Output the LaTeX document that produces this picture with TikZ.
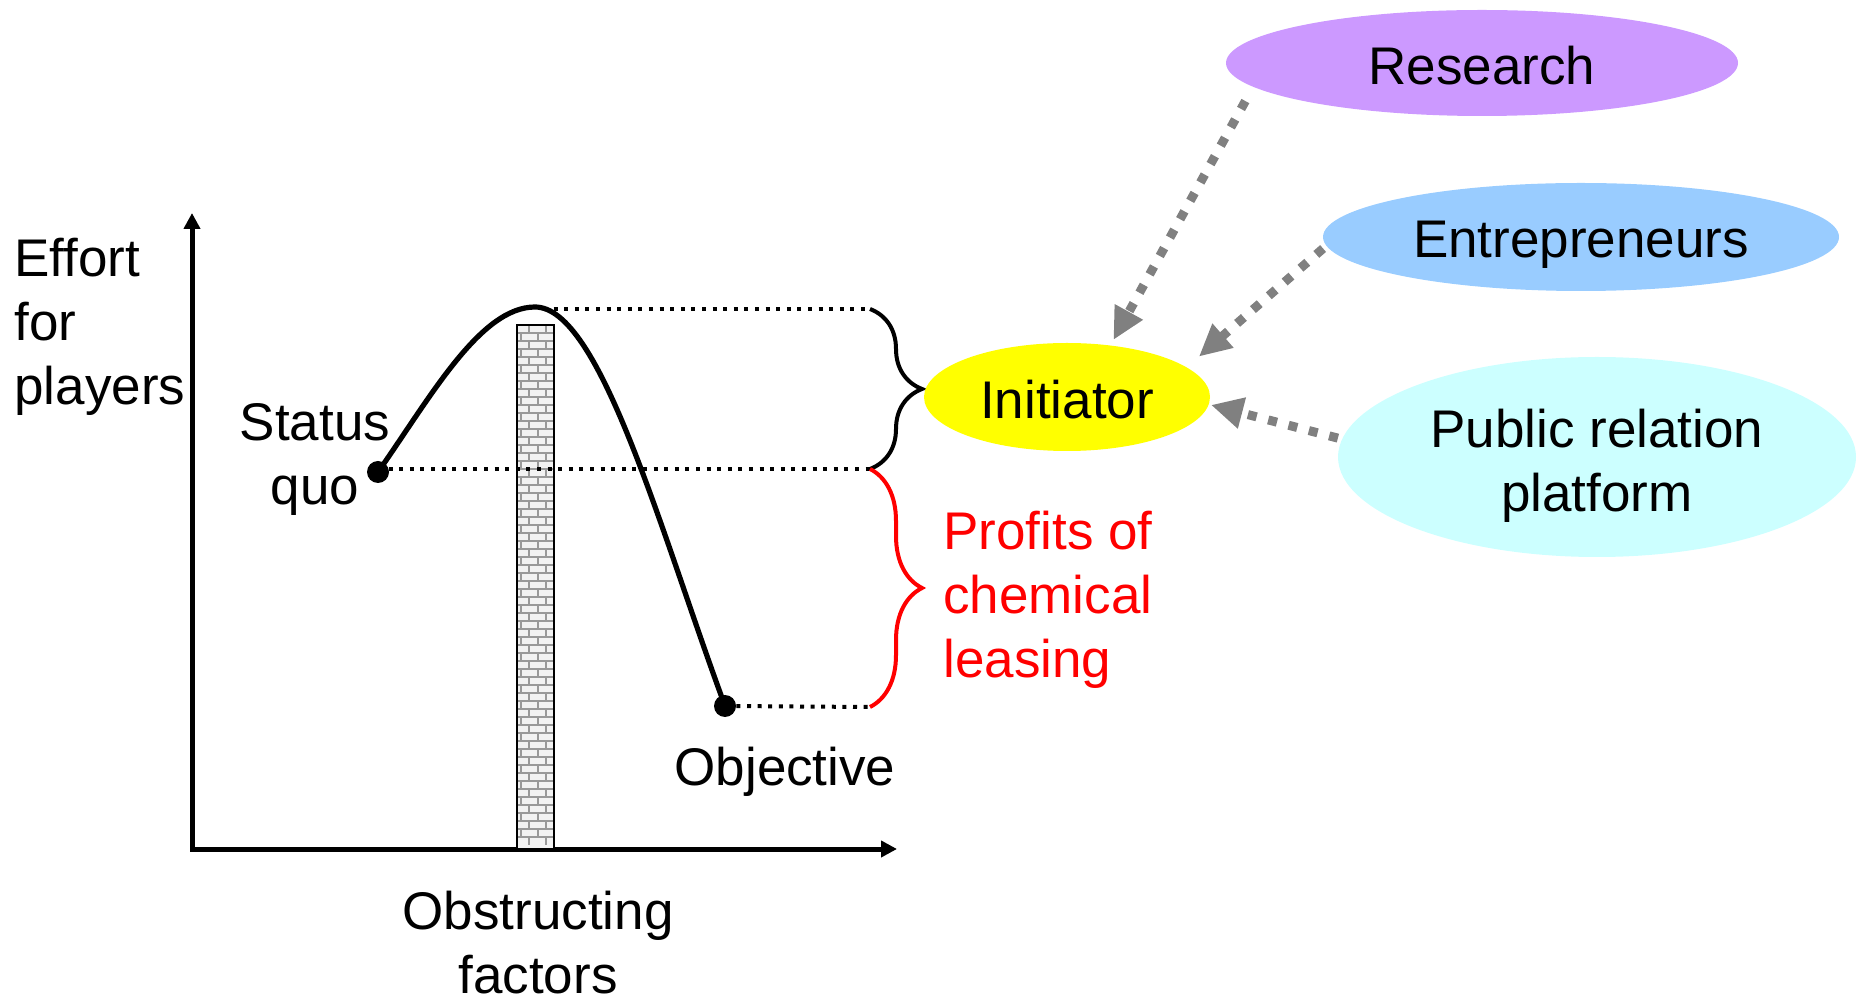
\documentclass[tikz,border=0pt]{standalone}
\usepackage{fontspec}
\setmainfont{Liberation Sans}
\usetikzlibrary{arrows.meta,shapes.geometric,decorations.pathreplacing}
\definecolor{researchcol}{HTML}{CC99FF}
\definecolor{entrecol}{HTML}{99CCFF}
\definecolor{prcol}{HTML}{CCFFFF}
\definecolor{initcol}{HTML}{FFFF00}
\definecolor{pushgray}{HTML}{808080}
\newcommand{\bubtext}[2]{\raisebox{#1}[0pt][0pt]{#2}}
\begin{document}
\begin{tikzpicture}[x=0.5pt, y=-0.5pt,
  font=\fontsize{26.5}{32}\selectfont,
  txt/.style={inner sep=0pt, align=center},
  bubble/.style={ellipse, inner sep=0pt},
  dot/.style={circle, fill=black, inner sep=0pt, minimum size=11pt},
  axis/.style={line width=2.5pt, -{Triangle[length=8pt,width=8pt]}},
  guide/.style={line width=2pt, dash pattern=on 2pt off 3.3pt},
  push/.style={draw=pushgray, line width=4.5pt, dash pattern=on 4.5pt off 6pt,
    -{Triangle[length=16pt,width=15pt]}},
  bracebox/.style={decorate, decoration={brace, amplitude=26pt}, line width=2pt}]
\useasboundingbox (0,0) rectangle (1857,1004);
% axes
\coordinate (O) at (192,849);
\coordinate (Y_top) at (192,213);
\coordinate (X_end) at (897,849);
\draw[axis] (192,851) -- (Y_top);
\draw[axis] (190,849) -- (X_end);
% wall
\draw[fill=black!5] (517,325) rectangle (554,849);
\foreach \yy [count=\k] in {325,333,...,841} {
  \draw[black!40, line width=0.6pt] (518,\yy) -- (553,\yy);
  \ifodd\k
    \draw[black!40, line width=0.6pt] (529,\yy) -- (529,\yy+8) (546,\yy) -- (546,\yy+8);
  \else
    \draw[black!40, line width=0.6pt] (521,\yy) -- (521,\yy+8) (538,\yy) -- (538,\yy+8);
  \fi
}
\draw[line width=1pt] (517,325) rectangle (554,849);
% curve
\node[dot] (SQ) at (378,472) {};
\node[dot] (OBJ) at (725,706) {};
\coordinate (top) at (535,307);
\draw[line width=2.6pt] (SQ.center) .. controls (430,398) and (480,307) .. (top)
  .. controls (600,307) and (660,530) .. (OBJ.center);
% levels and braces
\coordinate (B_1) at (870,309);
\coordinate (B_2) at (870,469);
\coordinate (B_3) at (870,707);
\draw[guide] (top) ++(8,2) -- (B_1);
\draw[guide] (SQ.center) ++(0,-3) -- (B_2);
\draw[guide] (OBJ) -- (B_3);
\draw[bracebox] (B_1) -- (B_2);
\draw[bracebox, red] (B_2) -- (B_3);
% labels
\node[txt, align=left, anchor=west] (L_y) at (14,327) {Effort\\for\\players};
\node[txt] (L_sq) at (315,459) {Status\\quo};
\node[txt] (L_obj) at (785,772) {Objective};
\node[txt] (L_x) at (538,943) {Obstructing\\factors};
\node[txt, align=left, anchor=west, text=red] (L_pr) at (943,600) {Profits of\\chemical\\leasing};
% players
\node[bubble, fill=initcol, minimum width=143pt, minimum height=54pt] (I) at (1067,397) {\bubtext{-11pt}{Initiator}};
\node[bubble, fill=researchcol, minimum width=256pt, minimum height=53pt] (R) at (1482,63) {\bubtext{-10.7pt}{Research}};
\node[bubble, fill=entrecol, minimum width=258pt, minimum height=54pt] (E) at (1581,237) {\bubtext{-10.5pt}{Entrepreneurs}};
\node[bubble, fill=prcol, minimum width=259pt, minimum height=100pt] (P) at (1597,457) {\bubtext{4.7pt}{\begin{tabular}[t]{@{}c@{}}Public relation\\platform\end{tabular}}};
\draw[push, shorten <=8pt, shorten >=3pt] (R.186) -- (I.50);
\draw[push, shorten <=2pt, shorten >=8pt] (E.182) -- (I.14);
\draw[push, shorten <=2pt, shorten >=1pt] (P.176) -- (I.-3);
\end{tikzpicture}
\end{document}
